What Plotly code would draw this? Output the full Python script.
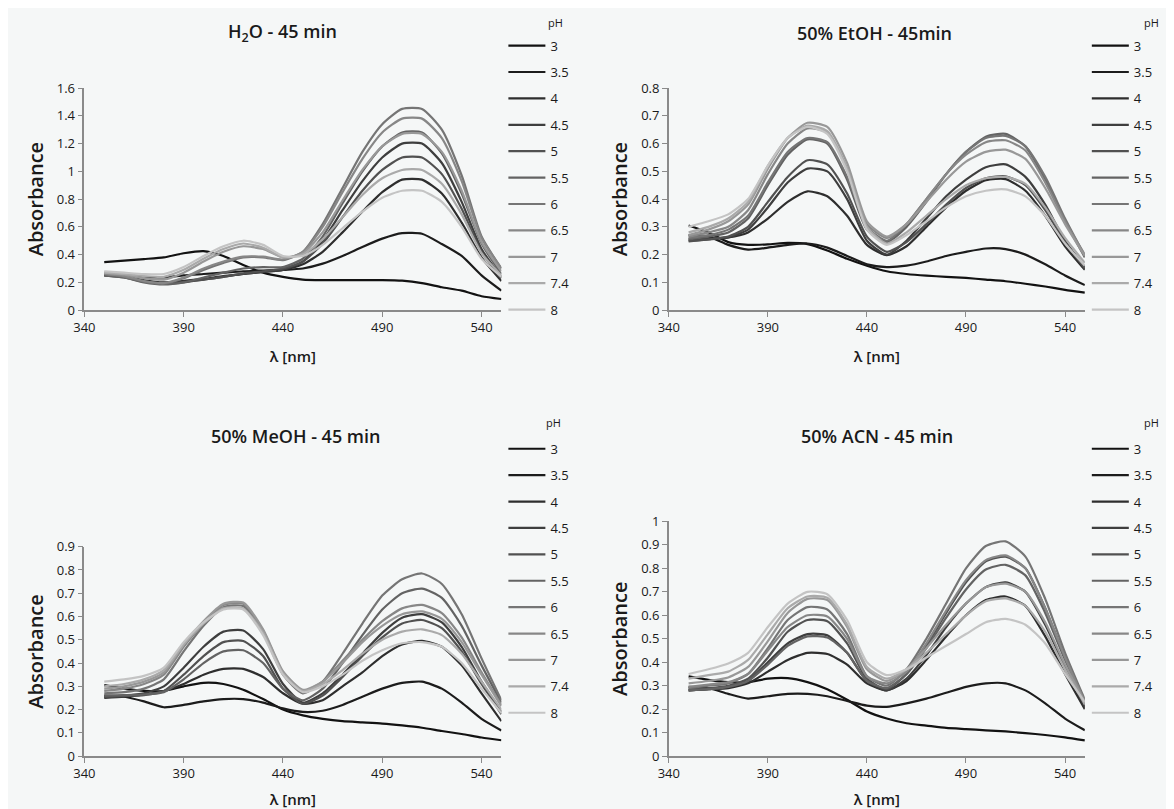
import plotly.graph_objects as go

# ---------------- data ----------------
wavelength = [350, 360, 370, 380, 390, 400, 410, 420, 430, 440, 450,
              460, 470, 480, 490, 500, 510, 520, 530, 540, 550]
ph_labels = ["3", "3.5", "4", "4.5", "5", "5.5", "6", "6.5", "7", "7.4", "8"]

# H2O - 45 min
h2o_ph3 = [0.346, 0.357, 0.368, 0.38, 0.41, 0.425, 0.39, 0.325, 0.27, 0.24, 0.22, 0.216, 0.216, 0.216, 0.216, 0.212, 0.195, 0.165, 0.14, 0.10, 0.08]
h2o_ph3_5 = [0.26, 0.25, 0.24, 0.235, 0.25, 0.26, 0.27, 0.28, 0.285, 0.29, 0.30, 0.335, 0.39, 0.455, 0.515, 0.555, 0.55, 0.476, 0.39, 0.25, 0.14]
h2o_ph4 = [0.26, 0.245, 0.215, 0.20, 0.21, 0.225, 0.245, 0.26, 0.275, 0.29, 0.33, 0.42, 0.56, 0.71, 0.85, 0.94, 0.94, 0.84, 0.63, 0.38, 0.21]
h2o_ph4_5 = [0.25, 0.24, 0.21, 0.195, 0.205, 0.22, 0.24, 0.26, 0.275, 0.29, 0.35, 0.50, 0.72, 0.93, 1.10, 1.20, 1.20, 1.06, 0.78, 0.44, 0.24]
h2o_ph5 = [0.25, 0.235, 0.205, 0.19, 0.20, 0.22, 0.24, 0.265, 0.28, 0.30, 0.35, 0.48, 0.67, 0.86, 1.01, 1.10, 1.10, 0.98, 0.73, 0.42, 0.23]
h2o_ph5_5 = [0.25, 0.235, 0.20, 0.185, 0.20, 0.235, 0.27, 0.30, 0.31, 0.31, 0.37, 0.53, 0.77, 1.00, 1.18, 1.28, 1.28, 1.13, 0.84, 0.48, 0.26]
h2o_ph6 = [0.26, 0.24, 0.205, 0.19, 0.23, 0.29, 0.34, 0.38, 0.38, 0.36, 0.42, 0.62, 0.88, 1.14, 1.34, 1.45, 1.45, 1.30, 0.97, 0.53, 0.30]
h2o_ph6_5 = [0.26, 0.245, 0.21, 0.195, 0.235, 0.30, 0.35, 0.385, 0.385, 0.365, 0.42, 0.60, 0.85, 1.09, 1.28, 1.38, 1.38, 1.24, 0.93, 0.52, 0.30]
h2o_ph7 = [0.27, 0.255, 0.23, 0.22, 0.27, 0.35, 0.42, 0.46, 0.44, 0.38, 0.41, 0.56, 0.79, 1.01, 1.18, 1.27, 1.27, 1.14, 0.86, 0.49, 0.28]
h2o_ph7_4 = [0.27, 0.26, 0.245, 0.24, 0.29, 0.37, 0.44, 0.48, 0.45, 0.38, 0.40, 0.51, 0.67, 0.83, 0.95, 1.01, 1.01, 0.91, 0.69, 0.41, 0.25]
h2o_ph8 = [0.28, 0.27, 0.26, 0.26, 0.31, 0.39, 0.46, 0.50, 0.47, 0.39, 0.39, 0.47, 0.59, 0.71, 0.81, 0.86, 0.86, 0.78, 0.60, 0.37, 0.24]

# 50% EtOH - 45min
etoh_ph3 = [0.305, 0.28, 0.245, 0.235, 0.237, 0.242, 0.238, 0.215, 0.185, 0.16, 0.14, 0.13, 0.124, 0.12, 0.116, 0.11, 0.104, 0.095, 0.085, 0.073, 0.063]
etoh_ph3_5 = [0.27, 0.265, 0.235, 0.218, 0.225, 0.235, 0.24, 0.225, 0.195, 0.165, 0.155, 0.16, 0.175, 0.195, 0.21, 0.222, 0.22, 0.20, 0.165, 0.125, 0.09]
etoh_ph4 = [0.255, 0.258, 0.262, 0.28, 0.33, 0.39, 0.428, 0.41, 0.34, 0.235, 0.198, 0.23, 0.30, 0.37, 0.43, 0.468, 0.472, 0.43, 0.34, 0.23, 0.145]
etoh_ph4_5 = [0.25, 0.255, 0.262, 0.29, 0.37, 0.46, 0.51, 0.50, 0.40, 0.25, 0.20, 0.25, 0.33, 0.41, 0.47, 0.515, 0.525, 0.48, 0.38, 0.25, 0.155]
etoh_ph5 = [0.248, 0.255, 0.265, 0.30, 0.39, 0.48, 0.54, 0.525, 0.42, 0.265, 0.21, 0.245, 0.31, 0.38, 0.44, 0.475, 0.482, 0.45, 0.36, 0.245, 0.15]
etoh_ph5_5 = [0.255, 0.265, 0.28, 0.33, 0.45, 0.56, 0.615, 0.60, 0.47, 0.29, 0.245, 0.30, 0.39, 0.49, 0.57, 0.625, 0.635, 0.59, 0.47, 0.32, 0.19]
etoh_ph6 = [0.26, 0.27, 0.29, 0.34, 0.46, 0.57, 0.62, 0.605, 0.48, 0.30, 0.25, 0.31, 0.40, 0.49, 0.57, 0.62, 0.628, 0.59, 0.48, 0.33, 0.195]
etoh_ph6_5 = [0.265, 0.28, 0.30, 0.36, 0.49, 0.60, 0.655, 0.64, 0.51, 0.31, 0.26, 0.31, 0.40, 0.49, 0.56, 0.605, 0.612, 0.575, 0.46, 0.32, 0.20]
etoh_ph7 = [0.27, 0.29, 0.32, 0.38, 0.51, 0.62, 0.675, 0.66, 0.53, 0.32, 0.265, 0.31, 0.39, 0.47, 0.535, 0.57, 0.578, 0.545, 0.44, 0.31, 0.195]
etoh_ph7_4 = [0.28, 0.30, 0.33, 0.39, 0.52, 0.62, 0.665, 0.645, 0.51, 0.30, 0.24, 0.28, 0.34, 0.40, 0.45, 0.475, 0.48, 0.455, 0.37, 0.26, 0.17]
etoh_ph8 = [0.30, 0.32, 0.345, 0.40, 0.52, 0.62, 0.66, 0.635, 0.50, 0.29, 0.235, 0.27, 0.32, 0.37, 0.41, 0.43, 0.435, 0.41, 0.34, 0.24, 0.16]

# 50% MeOH - 45 min
meoh_ph3 = [0.305, 0.29, 0.28, 0.28, 0.30, 0.315, 0.31, 0.285, 0.245, 0.20, 0.175, 0.16, 0.15, 0.145, 0.14, 0.132, 0.122, 0.108, 0.095, 0.08, 0.068]
meoh_ph3_5 = [0.26, 0.255, 0.235, 0.21, 0.22, 0.235, 0.245, 0.245, 0.23, 0.205, 0.19, 0.195, 0.22, 0.255, 0.29, 0.315, 0.32, 0.29, 0.23, 0.16, 0.11]
meoh_ph4 = [0.25, 0.255, 0.265, 0.28, 0.31, 0.35, 0.375, 0.375, 0.34, 0.27, 0.225, 0.24, 0.30, 0.36, 0.43, 0.48, 0.495, 0.47, 0.39, 0.27, 0.15]
meoh_ph4_5 = [0.255, 0.26, 0.27, 0.30, 0.38, 0.47, 0.535, 0.54, 0.46, 0.31, 0.23, 0.27, 0.35, 0.44, 0.53, 0.595, 0.61, 0.575, 0.47, 0.32, 0.19]
meoh_ph5 = [0.255, 0.258, 0.262, 0.28, 0.35, 0.43, 0.49, 0.495, 0.43, 0.29, 0.225, 0.26, 0.34, 0.43, 0.51, 0.57, 0.585, 0.55, 0.45, 0.31, 0.18]
meoh_ph5_5 = [0.26, 0.262, 0.265, 0.275, 0.33, 0.40, 0.45, 0.455, 0.40, 0.29, 0.24, 0.29, 0.40, 0.52, 0.63, 0.70, 0.72, 0.68, 0.56, 0.39, 0.23]
meoh_ph6 = [0.27, 0.275, 0.29, 0.33, 0.45, 0.56, 0.64, 0.645, 0.53, 0.35, 0.27, 0.32, 0.44, 0.57, 0.69, 0.76, 0.785, 0.74, 0.61, 0.42, 0.24]
meoh_ph6_5 = [0.28, 0.29, 0.31, 0.35, 0.47, 0.57, 0.65, 0.655, 0.54, 0.36, 0.28, 0.32, 0.41, 0.50, 0.58, 0.635, 0.65, 0.615, 0.51, 0.36, 0.22]
meoh_ph7 = [0.29, 0.30, 0.32, 0.36, 0.48, 0.58, 0.655, 0.66, 0.545, 0.365, 0.285, 0.32, 0.40, 0.49, 0.56, 0.61, 0.622, 0.59, 0.49, 0.35, 0.215]
meoh_ph7_4 = [0.30, 0.31, 0.33, 0.37, 0.48, 0.57, 0.635, 0.635, 0.53, 0.355, 0.28, 0.31, 0.37, 0.44, 0.50, 0.535, 0.545, 0.52, 0.44, 0.32, 0.20]
meoh_ph8 = [0.32, 0.33, 0.345, 0.38, 0.49, 0.575, 0.63, 0.63, 0.52, 0.35, 0.275, 0.30, 0.35, 0.41, 0.455, 0.485, 0.49, 0.47, 0.40, 0.29, 0.185]

# 50% ACN - 45 min
acn_ph3 = [0.34, 0.325, 0.315, 0.315, 0.33, 0.332, 0.315, 0.285, 0.24, 0.19, 0.16, 0.14, 0.13, 0.12, 0.115, 0.11, 0.105, 0.098, 0.09, 0.08, 0.067]
acn_ph3_5 = [0.295, 0.29, 0.265, 0.245, 0.255, 0.265, 0.265, 0.255, 0.235, 0.215, 0.21, 0.225, 0.245, 0.27, 0.295, 0.31, 0.31, 0.28, 0.225, 0.16, 0.11]
acn_ph4 = [0.28, 0.285, 0.29, 0.31, 0.36, 0.41, 0.44, 0.435, 0.39, 0.31, 0.28, 0.32, 0.41, 0.51, 0.60, 0.665, 0.68, 0.64, 0.51, 0.35, 0.20]
acn_ph4_5 = [0.28, 0.285, 0.295, 0.32, 0.40, 0.48, 0.52, 0.515, 0.44, 0.32, 0.28, 0.33, 0.43, 0.55, 0.65, 0.72, 0.74, 0.70, 0.56, 0.38, 0.21]
acn_ph5 = [0.285, 0.29, 0.30, 0.33, 0.42, 0.53, 0.58, 0.575, 0.48, 0.33, 0.285, 0.35, 0.47, 0.61, 0.74, 0.83, 0.85, 0.80, 0.63, 0.42, 0.23]
acn_ph5_5 = [0.28, 0.285, 0.295, 0.32, 0.39, 0.47, 0.51, 0.505, 0.44, 0.32, 0.29, 0.35, 0.46, 0.59, 0.71, 0.795, 0.815, 0.77, 0.61, 0.41, 0.22]
acn_ph6 = [0.29, 0.30, 0.31, 0.35, 0.46, 0.58, 0.635, 0.625, 0.52, 0.34, 0.30, 0.37, 0.50, 0.65, 0.80, 0.895, 0.915, 0.85, 0.67, 0.44, 0.24]
acn_ph6_5 = [0.295, 0.305, 0.315, 0.35, 0.45, 0.55, 0.60, 0.595, 0.50, 0.34, 0.31, 0.36, 0.48, 0.62, 0.75, 0.835, 0.855, 0.80, 0.63, 0.42, 0.23]
acn_ph7 = [0.31, 0.32, 0.335, 0.38, 0.49, 0.61, 0.67, 0.665, 0.55, 0.37, 0.32, 0.37, 0.46, 0.56, 0.65, 0.72, 0.735, 0.70, 0.57, 0.39, 0.23]
acn_ph7_4 = [0.33, 0.345, 0.36, 0.41, 0.52, 0.63, 0.68, 0.675, 0.56, 0.38, 0.33, 0.37, 0.44, 0.52, 0.60, 0.66, 0.672, 0.64, 0.53, 0.37, 0.22]
acn_ph8 = [0.35, 0.37, 0.395, 0.44, 0.55, 0.65, 0.70, 0.69, 0.58, 0.40, 0.345, 0.37, 0.42, 0.47, 0.52, 0.57, 0.585, 0.56, 0.48, 0.35, 0.23]

line_colors = ["#121212", "#1c1c1c", "#2e2e2e", "#3e3e3e", "#515151", "#636363",
               "#757575", "#878787", "#989898", "#aaaaaa", "#c4c4c4"]

# figure coordinates (px); the page adds an 8 px body margin
panels = [
    dict(title="H<sub>2</sub>O - 45 min", series=[h2o_ph3, h2o_ph3_5, h2o_ph4, h2o_ph4_5, h2o_ph5, h2o_ph5_5, h2o_ph6, h2o_ph6_5, h2o_ph7, h2o_ph7_4, h2o_ph8],
         ymax=1.6, dtick=0.2, xd=(66, 487), yd=(73, 301), legx=489, legy=14, phx=532, phy=6, tx=266, ty=16),
    dict(title="50% EtOH - 45min", series=[etoh_ph3, etoh_ph3_5, etoh_ph4, etoh_ph4_5, etoh_ph5, etoh_ph5_5, etoh_ph6, etoh_ph6_5, etoh_ph7, etoh_ph7_4, etoh_ph8],
         ymax=0.8, dtick=0.1, xd=(656, 1076), yd=(73, 301), legx=1078, legy=14, phx=1134, phy=6, tx=864, ty=16),
    dict(title="50% MeOH - 45 min", series=[meoh_ph3, meoh_ph3_5, meoh_ph4, meoh_ph4_5, meoh_ph5, meoh_ph5_5, meoh_ph6, meoh_ph6_5, meoh_ph7, meoh_ph7_4, meoh_ph8],
         ymax=0.9, dtick=0.1, xd=(66, 487), yd=(544, 759), legx=489, legy=428, phx=530, phy=416, tx=280, ty=430),
    dict(title="50% ACN - 45 min", series=[acn_ph3, acn_ph3_5, acn_ph4, acn_ph4_5, acn_ph5, acn_ph5_5, acn_ph6, acn_ph6_5, acn_ph7, acn_ph7_4, acn_ph8],
         ymax=1.0, dtick=0.1, xd=(656, 1076), yd=(518, 759), legx=1078, legy=428, phx=1134, phy=416, tx=866, ty=430),
]

W, H = 1166, 801
FONT = "Open Sans"
fig = go.Figure()
annotations = []

for i, p in enumerate(panels):
    n = "" if i == 0 else str(i + 1)
    legname = "legend" + n
    for k, (lab, ys) in enumerate(zip(ph_labels, p["series"])):
        fig.add_trace(go.Scatter(
            x=wavelength, y=ys, mode="lines", name=lab,
            line=dict(color=line_colors[k], width=2.2, shape="spline", smoothing=0.6),
            xaxis="x" + n, yaxis="y" + n, legend=legname,
            legendgroup=f"{i}-{lab}",
        ))
    ax = dict(
        domain=[p["xd"][0] / W, p["xd"][1] / W], anchor="y" + n,
        range=[340, 550], tick0=340, dtick=50, showgrid=False, zeroline=False,
        showline=True, linecolor="#8a8a8a", linewidth=1.5,
        ticks="outside", ticklen=5, tickcolor="#8a8a8a",
        tickfont=dict(family=FONT, size=13, color="#1a1a1a"),
        title=dict(text="λ [nm]", standoff=16, font=dict(family=FONT, size=15, color="#1a1a1a", weight=600)),
    )
    ay = dict(
        domain=[1 - p["yd"][1] / H, 1 - p["yd"][0] / H], anchor="x" + n,
        range=[0, p["ymax"]], dtick=p["dtick"], tick0=0, showgrid=False, zeroline=False,
        showline=True, linecolor="#8a8a8a", linewidth=1.5,
        ticks="outside", ticklen=5, tickcolor="#8a8a8a",
        tickfont=dict(family=FONT, size=13, color="#1a1a1a"),
        title=dict(text="Absorbance", standoff=8, font=dict(family=FONT, size=20, color="#1a1a1a", weight=600)),
    )
    fig.update_layout(**{"xaxis" + n: ax, "yaxis" + n: ay})
    fig.update_layout(**{legname: dict(
        x=p["legx"] / W, y=1 - p["legy"] / H, xanchor="left", yanchor="top",
        bgcolor="rgba(0,0,0,0)", borderwidth=0, itemwidth=37,
        tracegroupgap=6.5, traceorder="grouped",
        font=dict(family=FONT, size=13, color="#1a1a1a"),
    )})
    annotations.append(dict(text=p["title"], x=p["tx"] / W, y=1 - p["ty"] / H, xref="paper", yref="paper",
                            xanchor="center", yanchor="middle", showarrow=False,
                            font=dict(family=FONT, size=18, color="#1a1a1a", weight=600)))
    annotations.append(dict(text="pH", x=p["phx"] / W, y=1 - p["phy"] / H, xref="paper", yref="paper",
                            xanchor="left", yanchor="middle", showarrow=False,
                            font=dict(family=FONT, size=11, color="#1a1a1a")))

fig.update_layout(
    width=W, height=H, margin=dict(l=0, r=0, t=0, b=0),
    paper_bgcolor="#f5f7f7", plot_bgcolor="rgba(0,0,0,0)",
    annotations=annotations, showlegend=True,
    font=dict(family=FONT, color="#1a1a1a"),
)

fig.write_html("out.html")
